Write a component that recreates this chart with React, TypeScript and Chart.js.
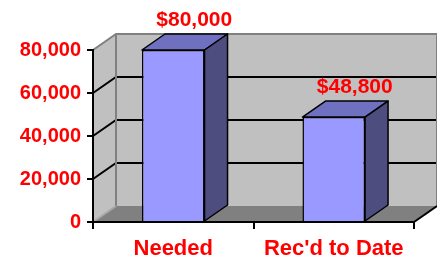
import React, { useEffect, useRef } from "react";
import { Chart, registerables } from "chart.js";

Chart.register(...registerables);

const categories = ["Needed", "Rec'd to Date"];
const amounts = [80000, 48800];
const yTicks = [0, 20000, 40000, 60000, 80000];

const RED = "#FF0000";
const FONT = "'Liberation Sans', Arial, sans-serif";
const DX = 23;
const DY = -16;

const wallPlugin = {
  id: "wall3d",
  beforeDraw(chart: any) {
    const { ctx, chartArea } = chart;
    const ys = chart.scales.y;
    const L = chartArea.left, R = chartArea.right;
    const T = ys.getPixelForValue(ys.max), B = ys.getPixelForValue(ys.min);
    ctx.save();
    // left wall
    ctx.fillStyle = "#C0C0C0";
    ctx.beginPath();
    ctx.moveTo(L, B); ctx.lineTo(L, T); ctx.lineTo(L + DX, T + DY); ctx.lineTo(L + DX, B + DY); ctx.closePath();
    ctx.fill();
    // back wall
    ctx.fillRect(L + DX, T + DY, R - L, B - T);
    // floor
    ctx.fillStyle = "#808080";
    ctx.beginPath();
    ctx.moveTo(L, B); ctx.lineTo(L + DX, B + DY); ctx.lineTo(R + DX, B + DY); ctx.lineTo(R, B); ctx.closePath();
    ctx.fill();
    // gridlines
    ctx.strokeStyle = "#000";
    ctx.lineWidth = 2;
    yTicks.forEach((v) => {
      if (v <= ys.min || v >= ys.max) return;
      const y = ys.getPixelForValue(v);
      ctx.beginPath();
      ctx.moveTo(L, y); ctx.lineTo(L + DX, y + DY); ctx.lineTo(R + DX, y + DY);
      ctx.stroke();
    });
    // wall edges
    ctx.strokeStyle = "#808080";
    ctx.lineWidth = 2;
    ctx.beginPath();
    ctx.moveTo(L, T); ctx.lineTo(L + DX, T + DY); ctx.lineTo(R + DX, T + DY); ctx.lineTo(R + DX, B + DY);
    ctx.moveTo(L + DX, T + DY); ctx.lineTo(L + DX, B + DY);
    ctx.stroke();
    ctx.strokeStyle = "#A8A8A8";
    ctx.beginPath();
    ctx.moveTo(L, B); ctx.lineTo(L + DX, B + DY);
    ctx.stroke();
    ctx.strokeStyle = "#000";
    ctx.beginPath();
    ctx.moveTo(R, B); ctx.lineTo(R + DX, B + DY);
    ctx.stroke();
    ctx.restore();
  },
  afterDatasetsDraw(chart: any) {
    const { ctx } = chart;
    const meta = chart.getDatasetMeta(0);
    ctx.save();
    ctx.lineWidth = 1.5;
    ctx.lineJoin = "round";
    ctx.strokeStyle = "#000";
    meta.data.forEach((bar: any, i: number) => {
      const { x, y, base, width } = bar.getProps(["x", "y", "base", "width"], true);
      const l = x - width / 2, r = x + width / 2;
      // top face
      ctx.fillStyle = "#7070C0";
      ctx.beginPath();
      ctx.moveTo(l, y); ctx.lineTo(l + DX, y + DY); ctx.lineTo(r + DX, y + DY); ctx.lineTo(r, y); ctx.closePath();
      ctx.fill(); ctx.stroke();
      // side face
      ctx.fillStyle = "#4D4D80";
      ctx.beginPath();
      ctx.moveTo(r, y); ctx.lineTo(r + DX, y + DY); ctx.lineTo(r + DX, base + DY); ctx.lineTo(r, base); ctx.closePath();
      ctx.fill(); ctx.stroke();
      // value label
      ctx.fillStyle = RED;
      ctx.font = `bold 21px ${FONT}`;
      ctx.textAlign = "center";
      ctx.textBaseline = "alphabetic";
      ctx.fillText("$" + amounts[i].toLocaleString("en-US"), x + DX - 2, y + DY - 8);
    });
    ctx.restore();
  },
};

export default function App() {
  const ref = useRef<HTMLCanvasElement>(null);
  useEffect(() => {
    if (!ref.current) return;
    const chart = new Chart(ref.current, {
      type: "bar",
      data: {
        labels: categories,
        datasets: [
          {
            data: amounts,
            backgroundColor: "#9999FF",
            borderColor: "#000",
            borderWidth: 1.5,
            categoryPercentage: 1,
            barPercentage: 0.39,
          },
        ],
      },
      options: {
        responsive: false,
        animation: false,
        layout: { padding: { top: 50, right: 23, left: 0, bottom: 0 } },
        plugins: { legend: { display: false }, tooltip: { enabled: false } },
        scales: {
          x: {
            afterFit: (s: any) => { s.height = 37; },
            grid: { offset: true, drawOnChartArea: false, drawTicks: true, tickLength: 7, color: "#000", lineWidth: 2 },
            border: { display: true, color: "#000", width: 2 },
            ticks: { color: RED, font: { family: FONT, size: 22, weight: "bold" }, padding: 7, maxRotation: 0 },
          },
          y: {
            min: 0,
            max: 80000,
            afterFit: (s: any) => { s.width = 93; },
            afterBuildTicks: (s: any) => { s.ticks = yTicks.map((v) => ({ value: v })); },
            grid: { drawOnChartArea: false, drawTicks: true, tickLength: 6, color: "#000", lineWidth: 2 },
            border: { display: true, color: "#000", width: 2 },
            ticks: {
              color: RED,
              font: { family: FONT, size: 20, weight: "bold" },
              padding: 6,
              callback: (v: any) => Number(v).toLocaleString("en-US"),
            },
          },
        },
      },
      plugins: [wallPlugin],
    });
    return () => chart.destroy();
  }, []);
  return (
    <div style={{ position: "absolute", left: 0, top: 0, width: 437, height: 259, background: "#fff" }}>
      <canvas ref={ref} width={437} height={259} style={{ display: "block" }} />
    </div>
  );
}
